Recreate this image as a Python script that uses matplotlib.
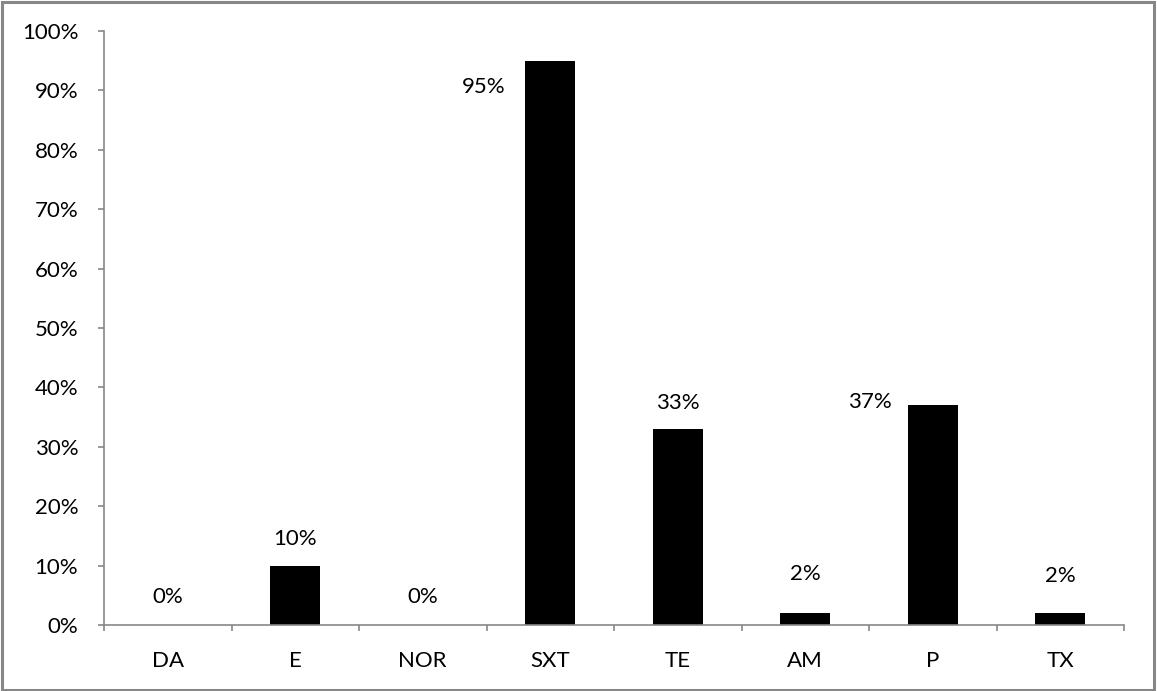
import matplotlib
matplotlib.use("Agg")
import matplotlib.pyplot as plt
from matplotlib.ticker import FixedLocator, FuncFormatter
from matplotlib.patches import Rectangle

plt.rcParams['font.family'] = ['Lato', 'DejaVu Sans']

categories = ["DA", "E", "NOR", "SXT", "TE", "AM", "P", "TX"]
values = [0, 10, 0, 95, 33, 2, 37, 2]
# label placement: (dx, dy) in points relative to the top-centre of each bar
label_offsets = [(0, 20), (0, 19), (0, 20), (-48, -19), (0, 19), (0, 28), (-45, 2), (0, 27)]

AXIS_GREY = "#878787"
FS = 16

fig = plt.figure(figsize=(11.57, 6.91), dpi=100)
ax = fig.add_axes([104 / 1157, 66 / 691, 1020 / 1157, 594 / 691])

x = list(range(len(categories)))
ax.bar(x, values, width=0.39, color="black", zorder=3)

ax.set_xlim(-0.5, len(categories) - 0.5)
ax.set_ylim(0, 100)

# y axis: 0..100 % every 10
ax.yaxis.set_major_locator(FixedLocator(range(0, 101, 10)))
ax.yaxis.set_major_formatter(FuncFormatter(lambda v, _: f"{int(v)}%"))

# x axis: labels at centres, tick marks at category boundaries
ax.set_xticks(x)
ax.set_xticklabels(categories)
ax.xaxis.set_minor_locator(FixedLocator([i - 0.5 for i in range(len(categories) + 1)]))
ax.tick_params(axis="x", which="major", length=0, pad=19, labelsize=FS, colors="black")
ax.tick_params(axis="x", which="minor", length=4.5, width=1.2, color=AXIS_GREY, direction="out")
ax.tick_params(axis="y", which="major", length=4.5, width=1.2, color=AXIS_GREY, direction="out",
               pad=14, labelsize=FS, labelcolor="black")

for side in ("top", "right"):
    ax.spines[side].set_visible(False)
for side in ("left", "bottom"):
    ax.spines[side].set_color(AXIS_GREY)
    ax.spines[side].set_linewidth(1.2)
    ax.spines[side].set_zorder(4)

for xi, v, (dx, dy) in zip(x, values, label_offsets):
    ax.annotate(f"{v}%", xy=(xi, v), xytext=(dx, dy), textcoords="offset points",
                ha="center", va="center", fontsize=FS, color="black")

# outer frame around the chart area
fig.patches.append(Rectangle((0.0015, 0.0015), 0.996, 0.996, transform=fig.transFigure,
                             fill=False, edgecolor=AXIS_GREY, linewidth=2.2))

fig.savefig("out.png", dpi=100, facecolor="white")
